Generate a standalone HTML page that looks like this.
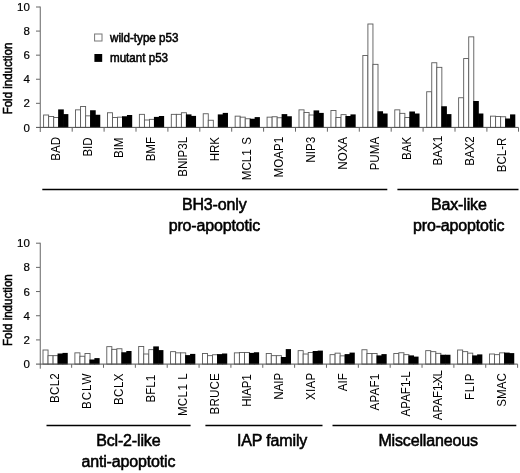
<!DOCTYPE html>
<html lang="en">
<head>
<meta charset="utf-8">
<title>Fold induction of apoptosis-related genes</title>
<style>
html,body{margin:0;padding:0;background:#fff;}
body{width:520px;height:473px;overflow:hidden;}
svg{display:block;}
text{font-family:"Liberation Sans",Arial,Helvetica,sans-serif;fill:#000;}
.tk{font-size:11.5px;text-anchor:end;stroke:#000;stroke-width:0.2px;}
.yl{font-size:13.2px;text-anchor:middle;stroke:#000;stroke-width:0.55px;}
.xl{font-size:13px;text-anchor:end;}
.g{font-size:16px;text-anchor:middle;stroke:#000;stroke-width:0.55px;letter-spacing:-0.15px;}
.lg{font-size:12.7px;stroke:#000;stroke-width:0.55px;}
.ax{stroke:#666;stroke-width:1;fill:none;}
.axb{stroke:#505050;stroke-width:1;fill:none;}
.w{fill:#fff;stroke:#5a5a5a;stroke-width:0.9;}
.b{fill:#000;stroke:none;}
.gl{stroke:#000;stroke-width:1.5;fill:none;}
</style>
</head>
<body>
<svg width="520" height="473" viewBox="0 0 520 473" role="img" aria-label="Fold induction of apoptosis-related genes, wild-type versus mutant p53">
<rect x="0" y="0" width="520" height="473" fill="#fff"/>
<g id="top-chart">
<rect class="w" x="43.6" y="115" width="5.05" height="12.4"/>
<rect class="w" x="48.65" y="116.5" width="5.05" height="10.9"/>
<rect class="w" x="53.7" y="117.5" width="5.05" height="9.9"/>
<rect class="b" x="58.15" y="109.4" width="5.65" height="18.4"/>
<rect class="b" x="63.1" y="114.1" width="5.25" height="13.7"/>
<rect class="w" x="75.52" y="109.85" width="5.05" height="17.55"/>
<rect class="w" x="80.57" y="106.5" width="5.05" height="20.9"/>
<rect class="w" x="85.62" y="115.85" width="5.05" height="11.55"/>
<rect class="b" x="90.07" y="110.25" width="5.65" height="17.55"/>
<rect class="b" x="95.02" y="114.75" width="5.25" height="13.05"/>
<rect class="w" x="107.45" y="112.75" width="5.05" height="14.65"/>
<rect class="w" x="112.5" y="117.5" width="5.05" height="9.9"/>
<rect class="w" x="117.55" y="117.15" width="5.05" height="10.25"/>
<rect class="b" x="122" y="116.25" width="5.65" height="11.55"/>
<rect class="b" x="126.95" y="115" width="5.25" height="12.8"/>
<rect class="w" x="139.38" y="114.35" width="5.05" height="13.05"/>
<rect class="w" x="144.43" y="120" width="5.05" height="7.4"/>
<rect class="w" x="149.47" y="119.35" width="5.05" height="8.05"/>
<rect class="b" x="153.93" y="116.9" width="5.65" height="10.9"/>
<rect class="b" x="158.88" y="116" width="5.25" height="11.8"/>
<rect class="w" x="171.3" y="114.35" width="5.05" height="13.05"/>
<rect class="w" x="176.35" y="114.35" width="5.05" height="13.05"/>
<rect class="w" x="181.4" y="112.75" width="5.05" height="14.65"/>
<rect class="b" x="185.85" y="114.4" width="5.65" height="13.4"/>
<rect class="b" x="190.8" y="115.9" width="5.25" height="11.9"/>
<rect class="w" x="203.22" y="113.75" width="5.05" height="13.65"/>
<rect class="w" x="208.28" y="120.25" width="5.05" height="7.15"/>
<rect class="b" x="217.78" y="114.4" width="5.65" height="13.4"/>
<rect class="b" x="222.72" y="112.9" width="5.25" height="14.9"/>
<rect class="w" x="235.15" y="116.15" width="5.05" height="11.25"/>
<rect class="w" x="240.2" y="117.15" width="5.05" height="10.25"/>
<rect class="w" x="245.25" y="118.75" width="5.05" height="8.65"/>
<rect class="b" x="249.7" y="118.75" width="5.65" height="9.05"/>
<rect class="b" x="254.65" y="117.1" width="5.25" height="10.7"/>
<rect class="w" x="267.08" y="117.15" width="5.05" height="10.25"/>
<rect class="w" x="272.13" y="116.75" width="5.05" height="10.65"/>
<rect class="w" x="277.18" y="117.75" width="5.05" height="9.65"/>
<rect class="b" x="281.62" y="114.1" width="5.65" height="13.7"/>
<rect class="b" x="286.58" y="116.25" width="5.25" height="11.55"/>
<rect class="w" x="299" y="109.85" width="5.05" height="17.55"/>
<rect class="w" x="304.05" y="112.5" width="5.05" height="14.9"/>
<rect class="w" x="309.1" y="115" width="5.05" height="12.4"/>
<rect class="b" x="313.55" y="110.4" width="5.65" height="17.4"/>
<rect class="b" x="318.5" y="112.9" width="5.25" height="14.9"/>
<rect class="w" x="330.93" y="110.5" width="5.05" height="16.9"/>
<rect class="w" x="335.98" y="117.5" width="5.05" height="9.9"/>
<rect class="w" x="341.03" y="114.65" width="5.05" height="12.75"/>
<rect class="b" x="345.47" y="116" width="5.65" height="11.8"/>
<rect class="b" x="350.43" y="114.4" width="5.25" height="13.4"/>
<rect class="w" x="362.85" y="55.45" width="5.05" height="71.95"/>
<rect class="w" x="367.9" y="24" width="5.05" height="103.4"/>
<rect class="w" x="372.95" y="64.35" width="5.05" height="63.05"/>
<rect class="b" x="377.4" y="111.25" width="5.65" height="16.55"/>
<rect class="b" x="382.35" y="113.5" width="5.25" height="14.3"/>
<rect class="w" x="394.78" y="109.85" width="5.05" height="17.55"/>
<rect class="w" x="399.83" y="113.35" width="5.05" height="14.05"/>
<rect class="w" x="404.88" y="117.5" width="5.05" height="9.9"/>
<rect class="b" x="409.32" y="111.5" width="5.65" height="16.3"/>
<rect class="b" x="414.28" y="113.5" width="5.25" height="14.3"/>
<rect class="w" x="426.7" y="91.75" width="5.05" height="35.65"/>
<rect class="w" x="431.75" y="62.75" width="5.05" height="64.65"/>
<rect class="w" x="436.8" y="67.35" width="5.05" height="60.05"/>
<rect class="b" x="441.25" y="106.25" width="5.65" height="21.55"/>
<rect class="b" x="446.2" y="114.1" width="5.25" height="13.7"/>
<rect class="w" x="458.63" y="97.75" width="5.05" height="29.65"/>
<rect class="w" x="463.68" y="58.55" width="5.05" height="68.85"/>
<rect class="w" x="468.73" y="36.85" width="5.05" height="90.55"/>
<rect class="b" x="473.18" y="101" width="5.65" height="26.8"/>
<rect class="b" x="478.13" y="113.5" width="5.25" height="14.3"/>
<rect class="w" x="490.55" y="116.15" width="5.05" height="11.25"/>
<rect class="w" x="495.6" y="116.5" width="5.05" height="10.9"/>
<rect class="w" x="500.65" y="116.75" width="5.05" height="10.65"/>
<rect class="b" x="505.1" y="118.5" width="5.65" height="9.3"/>
<rect class="b" x="510.05" y="114.4" width="5.25" height="13.4"/>
<path class="ax" d="M40.25 6.5V132"/>
<path class="axb" d="M36 127.4H518.5"/>
<path class="ax" d="M36 103.32H40M36 79.24H40M36 55.16H40M36 31.08H40M36 7H40M72.2 127.4V131.7M104.1 127.4V131.7M136 127.4V131.7M167.9 127.4V131.7M199.8 127.4V131.7M231.7 127.4V131.7M263.6 127.4V131.7M295.5 127.4V131.7M327.4 127.4V131.7M359.3 127.4V131.7M391.2 127.4V131.7M423.1 127.4V131.7M455 127.4V131.7M486.9 127.4V131.7M518.5 127.4V131.7"/>
<text class="tk" x="29.8" y="131.5">0</text>
<text class="tk" x="29.8" y="107.42">2</text>
<text class="tk" x="29.8" y="83.34">4</text>
<text class="tk" x="29.8" y="59.26">6</text>
<text class="tk" x="29.8" y="35.18">8</text>
<text class="tk" x="29.8" y="11.1">10</text>
<text class="yl" transform="translate(11.7 78.5) rotate(-90) scale(0.872 1)">Fold induction</text>
<text class="xl" transform="translate(59.65 136.9) rotate(-90) scale(0.892 1)">BAD</text>
<text class="xl" transform="translate(91.55 137.3) rotate(-90) scale(0.892 1)">BID</text>
<text class="xl" transform="translate(123.45 137.5) rotate(-90) scale(0.892 1)">BIM</text>
<text class="xl" transform="translate(155.35 136.9) rotate(-90) scale(0.892 1)">BMF</text>
<text class="xl" transform="translate(187.25 136.9) rotate(-90) scale(0.892 1)">BNIP3L</text>
<text class="xl" transform="translate(219.15 136.9) rotate(-90) scale(0.892 1)">HRK</text>
<text class="xl" transform="translate(251.05 136.9) rotate(-90) scale(0.892 1)">MCL1<tspan dx="1.6"> S</tspan></text>
<text class="xl" transform="translate(282.95 136.9) rotate(-90) scale(0.892 1)">MOAP1</text>
<text class="xl" transform="translate(314.85 136.9) rotate(-90) scale(0.892 1)">NIP3</text>
<text class="xl" transform="translate(346.75 136.9) rotate(-90) scale(0.892 1)">NOXA</text>
<text class="xl" transform="translate(378.65 136.9) rotate(-90) scale(0.892 1)">PUMA</text>
<text class="xl" transform="translate(410.55 136.9) rotate(-90) scale(0.892 1)">BAK</text>
<text class="xl" transform="translate(442.45 135.9) rotate(-90) scale(0.892 1)">BAX1</text>
<text class="xl" transform="translate(474.35 136.2) rotate(-90) scale(0.892 1)">BAX2</text>
<text class="xl" transform="translate(506.25 137.6) rotate(-90) scale(0.892 1)">BCL-R</text>
<path class="gl" d="M42.3 189.45H387.3"/>
<path class="gl" d="M397.4 189.45H518.5"/>
<text class="g" x="214.2" y="209.8">BH3-only</text>
<text class="g" x="214.4" y="230.8">pro-apoptotic</text>
<text class="g" x="458.8" y="209.8">Bax-like</text>
<text class="g" x="458.7" y="230.8">pro-apoptotic</text>
</g>
<g id="legend">
<rect x="94.6" y="34" width="7.4" height="7" fill="#fff" stroke="#777" stroke-width="1"/>
<text class="lg" transform="translate(110 41.5) scale(0.915 1)">wild-type p53</text>
<rect x="94.4" y="54" width="7.8" height="7.9" fill="#000"/>
<text class="lg" transform="translate(110 62.2) scale(0.915 1)">mutant p53</text>
</g>
<g id="bottom-chart">
<rect class="w" x="43" y="350" width="5.05" height="14.1"/>
<rect class="w" x="48.05" y="355.65" width="5.05" height="8.45"/>
<rect class="w" x="53.1" y="355.65" width="5.05" height="8.45"/>
<rect class="b" x="57.55" y="353.5" width="5.65" height="11"/>
<rect class="b" x="62.5" y="352.9" width="5.25" height="11.6"/>
<rect class="w" x="74.89" y="352.85" width="5.05" height="11.25"/>
<rect class="w" x="79.94" y="356.25" width="5.05" height="7.85"/>
<rect class="w" x="84.99" y="353.5" width="5.05" height="10.6"/>
<rect class="b" x="89.44" y="359.5" width="5.65" height="5"/>
<rect class="b" x="94.39" y="358.1" width="5.25" height="6.4"/>
<rect class="w" x="106.79" y="346.65" width="5.05" height="17.45"/>
<rect class="w" x="111.84" y="349.35" width="5.05" height="14.75"/>
<rect class="w" x="116.89" y="348.75" width="5.05" height="15.35"/>
<rect class="b" x="121.34" y="352.25" width="5.65" height="12.25"/>
<rect class="b" x="126.29" y="351" width="5.25" height="13.5"/>
<rect class="w" x="138.68" y="346.5" width="5.05" height="17.6"/>
<rect class="w" x="143.73" y="354" width="5.05" height="10.1"/>
<rect class="w" x="148.78" y="349.65" width="5.05" height="14.45"/>
<rect class="b" x="153.23" y="346.4" width="5.65" height="18.1"/>
<rect class="b" x="158.18" y="350.1" width="5.25" height="14.4"/>
<rect class="w" x="170.57" y="351.65" width="5.05" height="12.45"/>
<rect class="w" x="175.62" y="352.85" width="5.05" height="11.25"/>
<rect class="w" x="180.67" y="352.85" width="5.05" height="11.25"/>
<rect class="b" x="185.12" y="355.1" width="5.65" height="9.4"/>
<rect class="b" x="190.07" y="353.9" width="5.25" height="10.6"/>
<rect class="w" x="202.47" y="353.5" width="5.05" height="10.6"/>
<rect class="w" x="207.52" y="355.65" width="5.05" height="8.45"/>
<rect class="w" x="212.56" y="354.75" width="5.05" height="9.35"/>
<rect class="b" x="217.02" y="354.1" width="5.65" height="10.4"/>
<rect class="b" x="221.97" y="353.5" width="5.25" height="11"/>
<rect class="w" x="234.36" y="352.85" width="5.05" height="11.25"/>
<rect class="w" x="239.41" y="352.5" width="5.05" height="11.6"/>
<rect class="w" x="244.46" y="352.5" width="5.05" height="11.6"/>
<rect class="b" x="248.91" y="352.9" width="5.65" height="11.6"/>
<rect class="b" x="253.86" y="352.25" width="5.25" height="12.25"/>
<rect class="w" x="266.25" y="353.5" width="5.05" height="10.6"/>
<rect class="w" x="271.3" y="355.65" width="5.05" height="8.45"/>
<rect class="w" x="276.35" y="355.65" width="5.05" height="8.45"/>
<rect class="b" x="280.8" y="357" width="5.65" height="7.5"/>
<rect class="b" x="285.75" y="349.1" width="5.25" height="15.4"/>
<rect class="w" x="298.14" y="350.65" width="5.05" height="13.45"/>
<rect class="w" x="303.19" y="354" width="5.05" height="10.1"/>
<rect class="w" x="308.24" y="352.5" width="5.05" height="11.6"/>
<rect class="b" x="312.69" y="351" width="5.65" height="13.5"/>
<rect class="b" x="317.64" y="350.6" width="5.25" height="13.9"/>
<rect class="w" x="330.04" y="354.65" width="5.05" height="9.45"/>
<rect class="w" x="335.09" y="353.15" width="5.05" height="10.95"/>
<rect class="w" x="340.14" y="355.85" width="5.05" height="8.25"/>
<rect class="b" x="344.59" y="354.1" width="5.65" height="10.4"/>
<rect class="b" x="349.54" y="352.6" width="5.25" height="11.9"/>
<rect class="w" x="361.93" y="349.75" width="5.05" height="14.35"/>
<rect class="w" x="366.98" y="353.5" width="5.05" height="10.6"/>
<rect class="w" x="372.03" y="353.5" width="5.05" height="10.6"/>
<rect class="b" x="376.48" y="355.4" width="5.65" height="9.1"/>
<rect class="b" x="381.43" y="354.1" width="5.25" height="10.4"/>
<rect class="w" x="393.82" y="353.5" width="5.05" height="10.6"/>
<rect class="w" x="398.87" y="352.75" width="5.05" height="11.35"/>
<rect class="w" x="403.92" y="354.65" width="5.05" height="9.45"/>
<rect class="b" x="408.37" y="355.4" width="5.65" height="9.1"/>
<rect class="b" x="413.32" y="356.6" width="5.25" height="7.9"/>
<rect class="w" x="425.72" y="350.65" width="5.05" height="13.45"/>
<rect class="w" x="430.77" y="351.65" width="5.05" height="12.45"/>
<rect class="w" x="435.82" y="353.35" width="5.05" height="10.75"/>
<rect class="b" x="440.27" y="354.75" width="5.65" height="9.75"/>
<rect class="b" x="445.22" y="354.75" width="5.25" height="9.75"/>
<rect class="w" x="457.61" y="350" width="5.05" height="14.1"/>
<rect class="w" x="462.66" y="351.65" width="5.05" height="12.45"/>
<rect class="w" x="467.71" y="353.15" width="5.05" height="10.95"/>
<rect class="b" x="472.16" y="355.4" width="5.65" height="9.1"/>
<rect class="b" x="477.11" y="354.4" width="5.25" height="10.1"/>
<rect class="w" x="489.5" y="354" width="5.05" height="10.1"/>
<rect class="w" x="494.55" y="354.65" width="5.05" height="9.45"/>
<rect class="w" x="499.6" y="352.85" width="5.05" height="11.25"/>
<rect class="b" x="504.05" y="352.6" width="5.65" height="11.9"/>
<rect class="b" x="509" y="353.1" width="5.25" height="11.4"/>
<path class="ax" d="M40.25 242.7V368.7"/>
<path class="axb" d="M36 364.1H517.6"/>
<path class="ax" d="M36 339.92H40M36 315.74H40M36 291.56H40M36 267.38H40M36 243.2H40M71.65 364.1V367.8M103.51 364.1V367.8M135.36 364.1V367.8M167.21 364.1V367.8M199.07 364.1V367.8M230.92 364.1V367.8M262.77 364.1V367.8M294.62 364.1V367.8M326.48 364.1V367.8M358.33 364.1V367.8M390.18 364.1V367.8M422.04 364.1V367.8M453.89 364.1V367.8M485.74 364.1V367.8M517.6 364.1V367.8"/>
<text class="tk" x="29.8" y="368.2">0</text>
<text class="tk" x="29.8" y="344.02">2</text>
<text class="tk" x="29.8" y="319.84">4</text>
<text class="tk" x="29.8" y="295.66">6</text>
<text class="tk" x="29.8" y="271.48">8</text>
<text class="tk" x="29.8" y="247.3">10</text>
<text class="yl" transform="translate(12.4 310.1) rotate(-90) scale(0.872 1)">Fold induction</text>
<text class="xl" letter-spacing="0.28" transform="translate(58.9 372.95) rotate(-90) scale(0.892 1)">BCL2</text>
<text class="xl" letter-spacing="1.1" transform="translate(90.86 372.52) rotate(-90) scale(0.892 1)">BCLW</text>
<text class="xl" letter-spacing="0.5" transform="translate(122.82 373.05) rotate(-90) scale(0.892 1)">BCLX</text>
<text class="xl" transform="translate(154.78 374.9) rotate(-90) scale(0.892 1)">BFL1</text>
<text class="xl" transform="translate(186.74 373.3) rotate(-90) scale(0.892 1)">MC<tspan dx="0.5">L</tspan><tspan dx="0.6">1</tspan><tspan dx="1.2"> L</tspan></text>
<text class="xl" letter-spacing="0.2" transform="translate(218.7 373.02) rotate(-90) scale(0.892 1)">BRUCE</text>
<text class="xl" letter-spacing="-0.25" transform="translate(250.66 374.42) rotate(-90) scale(0.892 1)">HIAP1</text>
<text class="xl" transform="translate(282.62 372.7) rotate(-90) scale(0.892 1)">NAIP</text>
<text class="xl" letter-spacing="0.35" transform="translate(314.58 372.39) rotate(-90) scale(0.892 1)">XIAP</text>
<text class="xl" transform="translate(346.54 373.2) rotate(-90) scale(0.892 1)">AIF</text>
<text class="xl" letter-spacing="0.25" transform="translate(378.5 373.48) rotate(-90) scale(0.892 1)">APAF1</text>
<text class="xl" transform="translate(410.46 371.4) rotate(-90) scale(0.892 1)">APAF1<tspan dx="-0.6">-</tspan><tspan dx="-0.6">L</tspan></text>
<text class="xl" transform="translate(442.42 370) rotate(-90) scale(0.892 1)">APAF1<tspan dx="-1.6">-</tspan><tspan dx="-1.6">X</tspan><tspan dx="-0.8">L</tspan></text>
<text class="xl" letter-spacing="0.75" transform="translate(474.38 372.83) rotate(-90) scale(0.892 1)">FLIP</text>
<text class="xl" transform="translate(506.34 373.2) rotate(-90) scale(0.892 1)">SMAC</text>
<path class="gl" d="M46.5 425.5H190.6"/>
<path class="gl" d="M205.4 425.5H322.5"/>
<path class="gl" d="M332.5 425.5H516.3"/>
<text class="g" x="128.3" y="446">Bcl-2-like</text>
<text class="g" x="128.4" y="467">anti-apoptotic</text>
<text class="g" x="272.1" y="446.3">IAP family</text>
<text class="g" x="428.1" y="446.3">Miscellaneous</text>
</g>
</svg>
</body>
</html>
